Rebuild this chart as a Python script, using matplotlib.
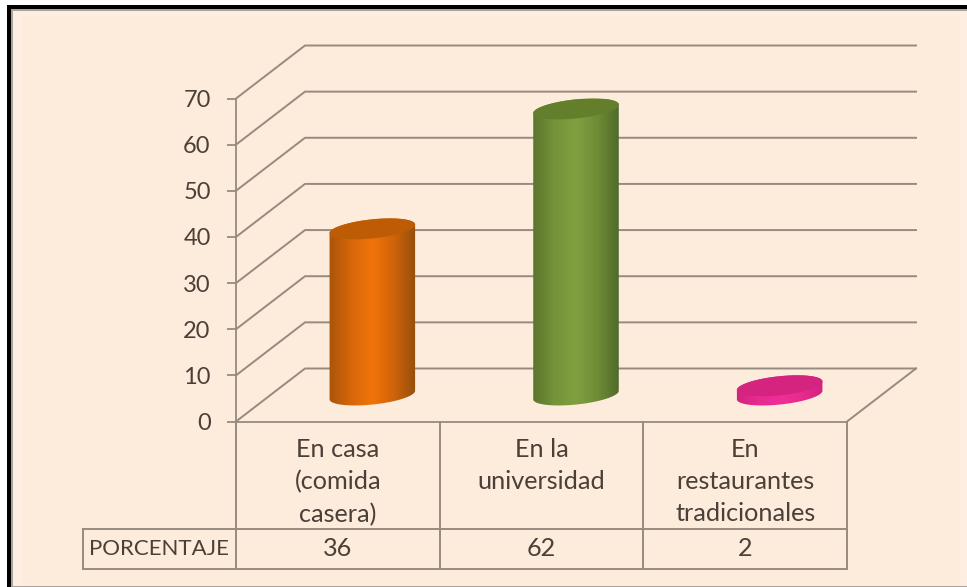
import numpy as np
import matplotlib
matplotlib.use('Agg')
import matplotlib.pyplot as plt
from matplotlib.colors import LinearSegmentedColormap
from matplotlib.patches import Polygon, Rectangle

plt.rcParams['font.family'] = ['Lato', 'DejaVu Sans']

categories = ['En casa\n(comida\ncasera)', 'En la\nuniversidad', 'En\nrestaurantes\ntradicionales']
values = [36, 62, 2]
series_name = 'PORCENTAJE'
y_ticks = [0, 10, 20, 30, 40, 50, 60, 70]
side_colors = [
    ['#a9540a', '#d5660a', '#f27409', '#d0640a', '#96500c'],
    ['#5c752c', '#74933a', '#80a040', '#6f8c36', '#4f6a28'],
    ['#d0247f', '#e82a90', '#f02e98', '#e82a90', '#d0247f'],
]
top_colors = ['#bd5c05', '#647f2b', '#d4247f']

W, H = 967, 587
LINE = '#978a7e'
TEXT = '#4b4038'

fig = plt.figure(figsize=(W / 100, H / 100), dpi=100, facecolor='white')


def fig_rect(x0, y0, x1, y1, color):
    fig.add_artist(Rectangle((x0 / W, 1 - y1 / H), (x1 - x0) / W, (y1 - y0) / H,
                             transform=fig.transFigure, facecolor=color, edgecolor='none',
                             zorder=-1))


# marco de la imagen
fig_rect(7, 5, W, H, 'black')
fig_rect(11, 9, W, H, '#a9a39c')
fig_rect(13, 11, W, H - 1, '#fdeee1')
fig_rect(22, 16, 960, H - 1, '#fdebdc')

# plano frontal del grafico en pixeles
left, right, base, top = 236, 847, 421.5, 98.5
ax = fig.add_axes([left / W, 1 - base / H, (right - left) / W, (base - top) / H])
ax.patch.set_alpha(0)
ax.set_xlim(0, 3)
ax.set_ylim(0, 70)
sx = (right - left) / 3
sy = (base - top) / 70
depth_x = 69 / sx
depth_y = 53 / sy

for s in ['top', 'right']:
    ax.spines[s].set_visible(False)
for s in ['left', 'bottom']:
    ax.spines[s].set_color(LINE)
    ax.spines[s].set_linewidth(1.3)
ax.set_xticks([])
ax.set_yticks(y_ticks)
ax.tick_params(axis='y', length=6.5, width=1.3, color=LINE, pad=11.7, labelsize=17, labelcolor=TEXT)

# rejilla: pared del fondo y pared izquierda
for t in y_ticks:
    ax.plot([0, depth_x, 3 + depth_x], [t, t + depth_y, t + depth_y],
            color=LINE, lw=1.4, clip_on=False, zorder=1)
ax.plot([3, 3 + depth_x], [0, depth_y], color=LINE, lw=1.4, clip_on=False, zorder=1)


def ellipse(cx, cy, t):
    # elipse inclinada, medida en pixeles y pasada a datos
    a, b, r = 43, 9.5, np.radians(6)
    ex = a * np.cos(t) * np.cos(r) + b * np.sin(t) * np.sin(r)
    ey = a * np.cos(t) * np.sin(r) - b * np.sin(t) * np.cos(r)
    return cx + ex / sx, cy + ey / sy


theta = np.linspace(0, 2 * np.pi, 120)
lower = np.linspace(0, np.pi, 60)
upper = np.linspace(np.pi, 2 * np.pi, 60)

for i, v in enumerate(values):
    cx = i + 0.5 + depth_x / 2
    cy = depth_y / 2
    bx, by = ellipse(cx, cy, lower)
    tx, ty = ellipse(cx, cy + v, upper)
    body = np.column_stack([np.r_[bx, tx], np.r_[by, ty]])
    cmap = LinearSegmentedColormap.from_list('side', side_colors[i])
    ext = [cx - 44 / sx, cx + 44 / sx, cy - 12 / sy, cy + v + 12 / sy]
    im = ax.imshow(np.linspace(0, 1, 64)[None, :], cmap=cmap, extent=ext,
                   aspect='auto', zorder=3, clip_on=True)
    clip = Polygon(body, closed=True, transform=ax.transData, facecolor='none', edgecolor='none')
    ax.add_patch(clip)
    clip.set_clip_on(False)
    im.set_clip_path(clip)
    ex, ey = ellipse(cx, cy + v, theta)
    ax.fill(ex, ey, color=top_colors[i], lw=0, zorder=4, clip_on=False)

ax.set_xlim(0, 3)
ax.set_ylim(0, 70)


def py(pixel_y):
    return (base - pixel_y) / sy


# tabla de datos bajo el grafico
row_y, end_y = py(529), py(569)
box_x = (83 - left) / sx
kw = dict(color=LINE, lw=1.4, clip_on=False, zorder=2)
for i in range(4):
    ax.plot([i, i], [0, end_y], **kw)
ax.plot([box_x, 3], [row_y, row_y], **kw)
ax.plot([box_x, 3], [end_y, end_y], **kw)
ax.plot([box_x, box_x], [row_y, end_y], **kw)

for i, label in enumerate(categories):
    ax.text(i + 0.5, py(438), label, ha='center', va='top', fontsize=18.2,
            color=TEXT, linespacing=1.48, clip_on=False)
    ax.text(i + 0.5, py(549), str(values[i]), ha='center', va='center', fontsize=18.2,
            color=TEXT, clip_on=False)
ax.text((box_x - 0.005) / 2, py(549), series_name, ha='center', va='center', fontsize=16,
        color=TEXT, clip_on=False)

fig.savefig('out.png', dpi=100, facecolor=fig.get_facecolor())
